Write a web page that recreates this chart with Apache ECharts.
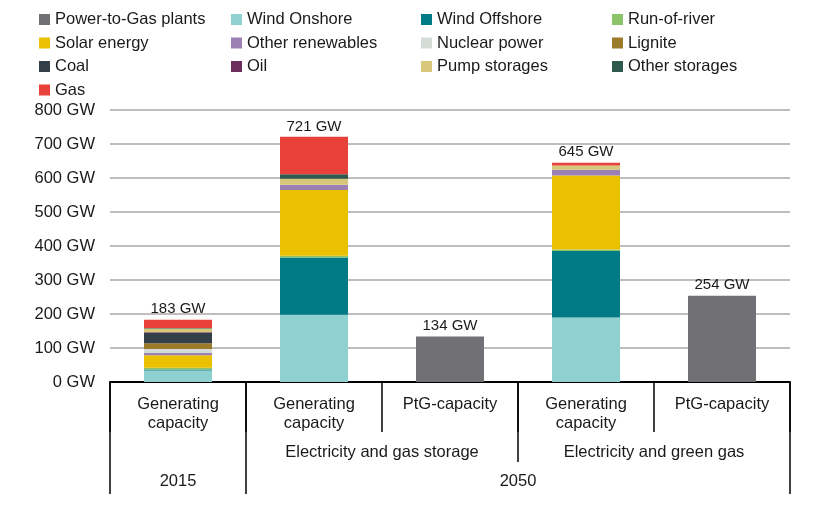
<!DOCTYPE html>
<html>
<head>
<meta charset="utf-8">
<script src="https://cdn.jsdelivr.net/npm/echarts@6/dist/echarts.min.js"></script>
<style>
html,body{margin:0;padding:0;background:#fff;}
#chart{width:824px;height:506px;}
</style>
</head>
<body>
<div id="chart"></div>
<script>
// ---- data ----
const categories = ['Generating\ncapacity', 'Generating\ncapacity', 'PtG-capacity', 'Generating\ncapacity', 'PtG-capacity'];
const scenarioLabels = ['Electricity and gas storage', 'Electricity and green gas'];
const scenarioSpans = [[1, 3], [3, 5]];
const yearLabels = ['2015', '2050'];
const yearSpans = [[0, 1], [1, 5]];
const totals = [183, 721, 134, 645, 254];

const ptg          = [0, 0, 134, 0, 254];
const windOnshore  = [34, 198, 0, 190, 0];
const windOffshore = [3, 168, 0, 195, 0];
const runOfRiver   = [5, 5, 0, 5, 0];
const solar        = [37, 194, 0, 217, 0];
const otherRen     = [6, 15, 0, 17, 0];
const nuclear      = [12, 0, 0, 0, 0];
const lignite      = [17, 0, 0, 0, 0];
const coal         = [30, 0, 0, 0, 0];
const oil          = [2, 0, 0, 0, 0];
const pumpStorage  = [11, 18, 0, 13, 0];
const otherStorage = [2, 13, 0, 0, 0];
const gas          = [24, 110, 0, 8, 0];

const seriesDefs = [
  ['Power-to-Gas plants', ptg, '#717175'],
  ['Wind Onshore', windOnshore, '#8fd1d1'],
  ['Wind Offshore', windOffshore, '#007a84'],
  ['Run-of-river', runOfRiver, '#8cc46c'],
  ['Solar energy', solar, '#ebc000'],
  ['Other renewables', otherRen, '#9c80b4'],
  ['Nuclear power', nuclear, '#d3dcd6'],
  ['Lignite', lignite, '#9b7a2a'],
  ['Coal', coal, '#333f48'],
  ['Oil', oil, '#6b2d5c'],
  ['Pump storages', pumpStorage, '#d8c77a'],
  ['Other storages', otherStorage, '#2e5a4e'],
  ['Gas', gas, '#e8413a']
];

const legendCols = [
  ['Power-to-Gas plants', 'Solar energy', 'Coal', 'Gas'],
  ['Wind Onshore', 'Other renewables', 'Oil'],
  ['Wind Offshore', 'Nuclear power', 'Pump storages'],
  ['Run-of-river', 'Lignite', 'Other storages']
];
const legendLeft = [34, 226, 416, 607];

const FONT = '"Liberation Sans", Arial, sans-serif';
const TXT = '#1a1a1a';

const chart = echarts.init(document.getElementById('chart'), null, {renderer: 'canvas'});

const series = seriesDefs.map(([name, data, color]) => ({
  name, type: 'bar', stack: 'total', data, barWidth: '50%',
  itemStyle: {color}, emphasis: {disabled: true}
}));
series.push({
  name: '_total', type: 'bar', stack: 'total', data: totals.map(() => 0), barWidth: '50%',
  itemStyle: {color: 'transparent'},
  label: {show: true, position: 'top', distance: 3, fontSize: 15, fontFamily: FONT, color: TXT,
    formatter: p => totals[p.dataIndex] + ' GW'}
});

const legends = legendCols.map((col, i) => ({
  orient: 'vertical', left: legendLeft[i], top: 6,
  data: col, itemWidth: 11, itemHeight: 11, itemGap: 6.5, icon: 'rect',
  textStyle: {fontSize: 16.5, fontFamily: FONT, color: TXT, lineHeight: 16},
  selectedMode: false
}));

chart.setOption({
  animation: false,
  color: seriesDefs.map(s => s[2]),
  legend: legends,
  grid: {left: 110, right: 34, top: 110, bottom: 124},
  xAxis: {
    type: 'category', data: categories,
    axisLine: {show: true, lineStyle: {color: '#000', width: 2}},
    axisTick: {show: true, length: 50, interval: 0, lineStyle: {color: '#000', width: 1.5}},
    axisLabel: {interval: 0, margin: 13, fontSize: 16.5, fontFamily: FONT, color: TXT, lineHeight: 19, verticalAlign: 'top'}
  },
  yAxis: {
    type: 'value', min: 0, max: 800, interval: 100,
    axisLine: {show: false}, axisTick: {show: false},
    axisLabel: {formatter: '{value} GW', fontSize: 16.5, fontFamily: FONT, color: TXT, margin: 15},
    splitLine: {lineStyle: {color: '#a8a8a8', width: 1.5}}
  },
  series
});

// hierarchical category labels below the axis, positioned through the axis scale
const c0 = chart.convertToPixel({xAxisIndex: 0}, 0);
const c1 = chart.convertToPixel({xAxisIndex: 0}, 1);
const band = c1 - c0;
const bx = i => c0 - band / 2 + i * band;
const y0 = chart.convertToPixel({yAxisIndex: 0}, 0);
const graphics = [];
const vline = (x, len) => graphics.push({type: 'line', shape: {x1: x, y1: y0, x2: x, y2: y0 + len},
  style: {stroke: '#000', lineWidth: 1.5}, silent: true});
// long separators
[0, 1, 5].forEach(i => vline(bx(i), 112));
vline(bx(3), 80);
scenarioSpans.forEach((s, k) => graphics.push({type: 'text', x: (bx(s[0]) + bx(s[1])) / 2, y: y0 + 70,
  style: {text: scenarioLabels[k], font: '16.5px ' + FONT, fill: TXT, align: 'center', verticalAlign: 'middle'}, silent: true}));
yearSpans.forEach((s, k) => graphics.push({type: 'text', x: (bx(s[0]) + bx(s[1])) / 2, y: y0 + 99,
  style: {text: yearLabels[k], font: '16.5px ' + FONT, fill: TXT, align: 'center', verticalAlign: 'middle'}, silent: true}));
chart.setOption({graphic: graphics});
</script>
</body>
</html>
